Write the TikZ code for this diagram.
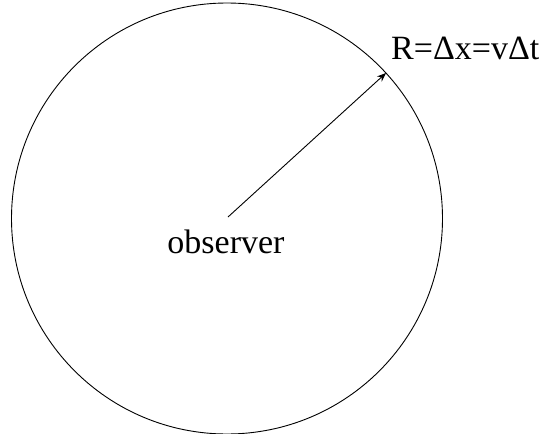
\documentclass[tikz,border=0pt]{standalone}
\usepackage{fontspec}
\setmainfont{Liberation Serif}
\usetikzlibrary{arrows.meta}
\begin{document}
\begin{tikzpicture}[x=1pt,y=-1pt,
  lbl/.style={inner sep=0pt,font=\fontsize{34}{40}\selectfont},
  ray/.style={line width=0.9pt,-{Stealth[length=9pt,width=7pt]}}]
\useasboundingbox (0,0) rectangle (542,434);
\coordinate (c) at (227,218.5);
\draw[line width=0.9pt] (c) circle[radius=215.5];
\coordinate (start) at (228,217);
\coordinate (tip) at (386,73);
\draw[ray] (start) -- (tip);
\node[lbl,anchor=base] (obs) at (226,253) {observer};
\node[lbl,anchor=base west] (R) at (391,59) {R=Δx=vΔt};
\end{tikzpicture}
\end{document}
